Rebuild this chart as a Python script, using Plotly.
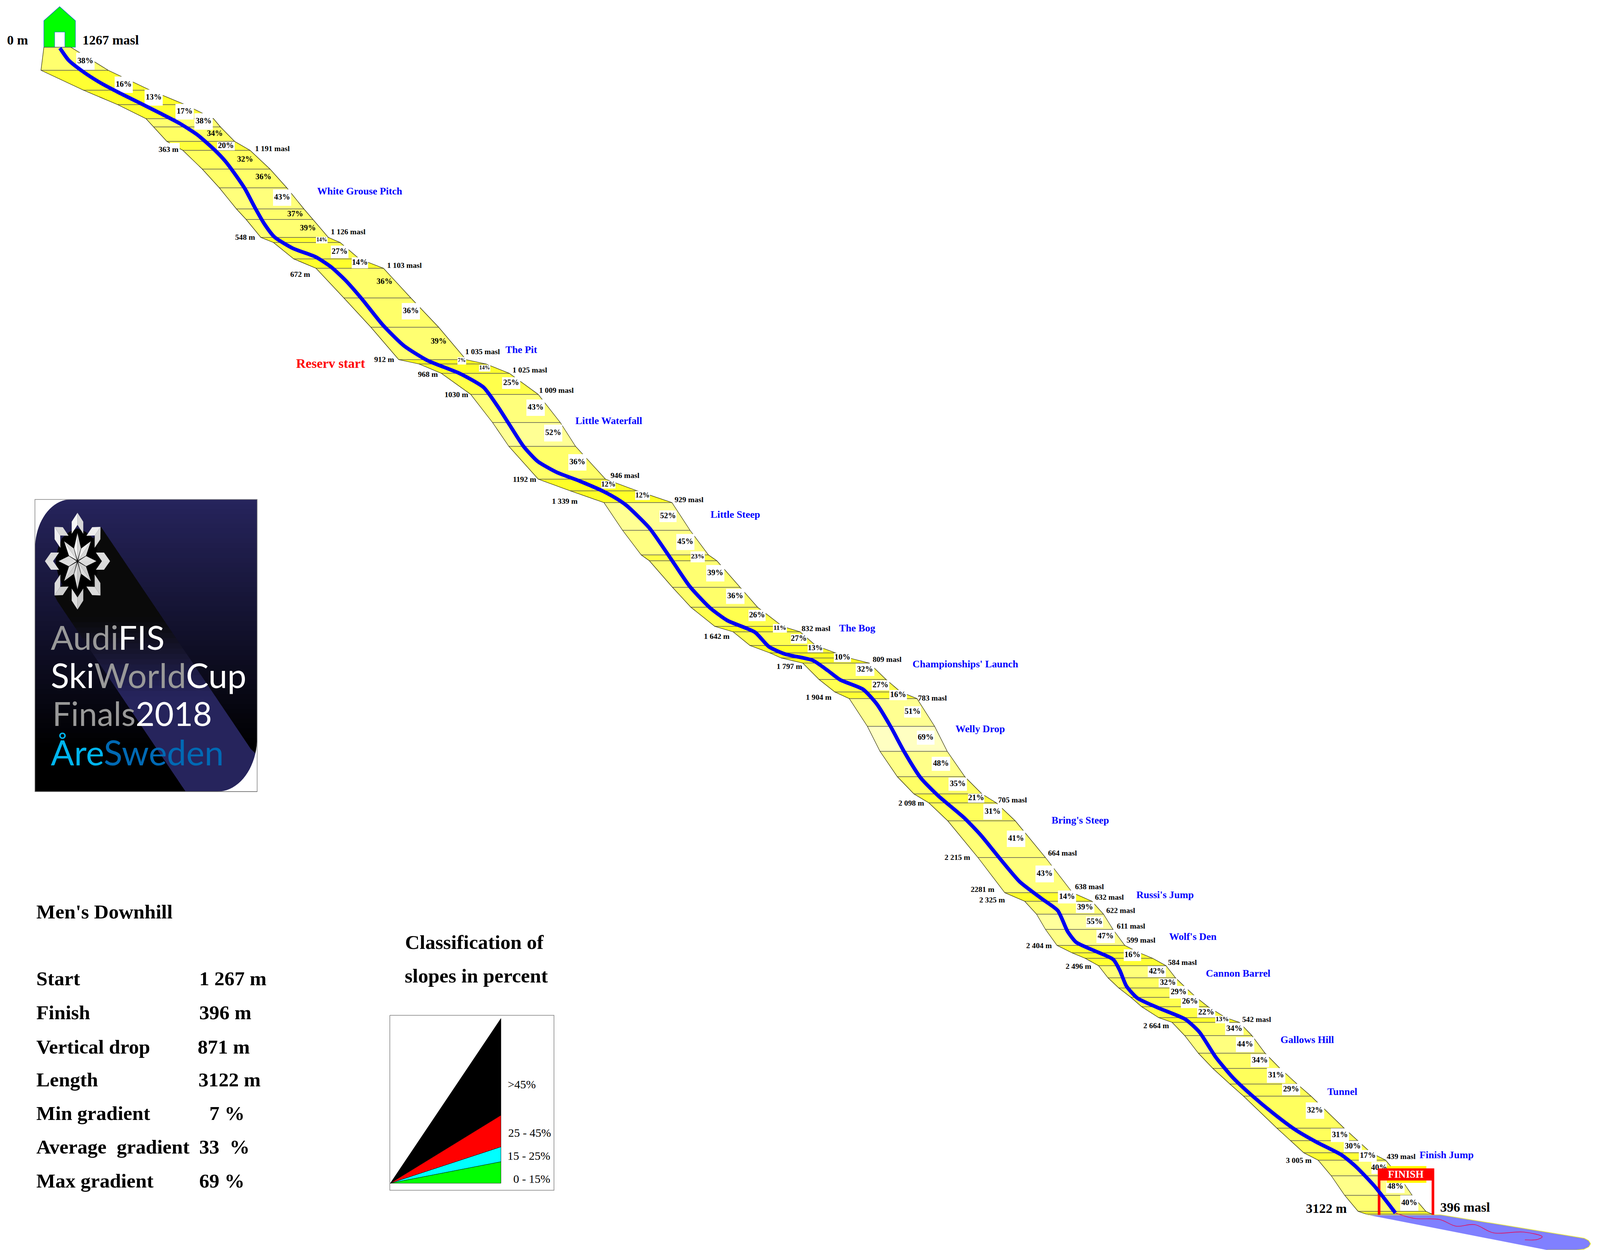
import math
import plotly.graph_objects as go

W, H = 6091, 3201
SERIF = "Liberation Serif"
# the figure fills whatever window it gets; the browser's window is narrower than the
# reference, so text is sized for that narrower mapping of the x axis
F = 0.68

# ---------- course ribbon: the cross lines of the piste
ROW_Y = [121, 180, 231, 268, 304, 325, 362, 385, 433, 481, 535, 562, 608, 621, 663, 687, 763, 838, 921, 932,
         956, 1010, 1082, 1143, 1227, 1257, 1287, 1358, 1421, 1436, 1504, 1555, 1604, 1618, 1653, 1672, 1685,
         1698, 1740, 1772, 1789, 1860, 1924, 1989, 2033, 2056, 2102, 2196, 2286, 2308, 2341, 2380, 2421, 2440,
         2454, 2473, 2504, 2530, 2554, 2578, 2606, 2618, 2652, 2697, 2736, 2776, 2807, 2889, 2921, 2952, 2971,
         3011, 3061, 3102, 3109]
ROW_LEFT = [167, 156, 318, 448, 556, 585, 635, 696, 770, 835, 900, 937, 993, 1041, 1118, 1203, 1309, 1412, 1518,
            1595, 1680, 1792, 1875, 1937, 2049, 2171, 2299, 2370, 2441, 2472, 2560, 2630, 2721, 2791, 2855, 2931,
            2974, 3056, 3118, 3178, 3233, 3302, 3350, 3416, 3479, 3536, 3608, 3723, 3825, 3901, 3946, 3980, 4024,
            4081, 4131, 4182, 4218, 4259, 4305, 4346, 4411, 4462, 4510, 4562, 4617, 4682, 4734, 4861, 4913, 4963,
            5018, 5068, 5119, 5170, 5201]
ROW_RIGHT = [270, 412, 572, 705, 813, 839, 893, 952, 1028, 1092, 1157, 1191, 1250, 1295, 1368, 1460, 1564, 1670,
             1774, 1850, 1939, 2049, 2133, 2191, 2305, 2426, 2558, 2627, 2697, 2729, 2817, 2884, 2979, 3046, 3105,
             3180, 3233, 3309, 3373, 3429, 3491, 3558, 3606, 3673, 3738, 3793, 3865, 3980, 4083, 4157, 4201, 4237,
             4282, 4338, 4388, 4439, 4475, 4515, 4554, 4599, 4666, 4718, 4766, 4816, 4873, 4938, 4991, 5117, 5168,
             5219, 5275, 5325, 5376, 5428, 5452]
BAND_PCT = [38, 16, 13, 17, 38, 34, 20, 32, 36, 43, 37, 39, 14, 27, 14, 36, 36, 39, 7, 14, 25, 43, 52, 36, 12, 12,
            52, 45, 23, 39, 36, 26, 11, 27, 13, 10, 10, 32, 27, 16, 51, 69, 48, 35, 21, 31, 41, 43, 14, 39, 55, 47,
            16, 16, 16, 42, 32, 29, 26, 22, 13, 34, 44, 34, 31, 29, 32, 31, 30, 17, 40, 48, 40, 12]

# ---------- racing line
LINE_X = [228, 261, 313, 377, 452, 539, 610, 684, 753, 817, 858, 900, 933, 970, 1007, 1045, 1115, 1202, 1261, 1314,
          1377, 1457, 1537, 1627, 1752, 1841, 1895, 1939, 1993, 2046, 2118, 2207, 2296, 2350, 2386, 2472, 2553, 2625,
          2702, 2769, 2874, 2927, 2989, 3094, 3151, 3199, 3285, 3338, 3390, 3443, 3505, 3572, 3670, 3733, 3807, 3882,
          3965, 4027, 4064, 4097, 4164, 4238, 4263, 4288, 4330, 4413, 4512, 4566, 4628, 4694, 4762, 4851, 4931, 5010,
          5108, 5161, 5232, 5312]
LINE_Y = [123, 154, 182, 210, 237, 266, 290, 316, 346, 384, 413, 451, 484, 531, 574, 607, 636, 658, 684, 717,
          765, 832, 885, 923, 957, 992, 1041, 1087, 1143, 1181, 1209, 1232, 1258, 1278, 1295, 1352, 1430, 1501,
          1556, 1589, 1619, 1656, 1675, 1691, 1717, 1741, 1765, 1803, 1860, 1926, 1992, 2038, 2094, 2138, 2199, 2258,
          2301, 2332, 2385, 2413, 2434, 2457, 2485, 2525, 2556, 2582, 2610, 2643, 2707, 2760, 2803, 2853, 2893, 2924,
          2958, 2987, 3037, 3106]

# ---------- slope labels: text, x, y, font size, box width, box height (0 = no box)
SLOPE_TEXT = ["38%", "16%", "13%", "17%", "38%", "34%", "20%", "32%", "36%", "43%", "37%", "39%", "14%", "27%", "14%",
              "36%", "36%", "39%", "7%", "14%", "25%", "43%", "52%", "36%", "12%", "12%", "52%", "45%", "23%", "39%",
              "36%", "26%", "11%", "27%", "13%", "10%", "32%", "27%", "16%", "51%", "69%", "48%", "35%", "21%", "31%",
              "41%", "43%", "14%", "39%", "55%", "47%", "16%", "42%", "32%", "29%", "26%", "22%", "13%", "34%", "44%",
              "34%", "31%", "29%", "32%", "31%", "30%", "17%", "40%", "48%", "40%"]
SLOPE_X = [325, 471, 585, 703, 775, 818, 860, 933, 1003, 1074, 1124, 1172, 1225, 1293, 1370, 1464, 1564, 1670, 1758, 1845,
           1946, 2039, 2106, 2198, 2316, 2446, 2543, 2609, 2656, 2723, 2799, 2882, 2969, 3041, 3104, 3207, 3293, 3352,
           3419, 3474, 3524, 3582, 3646, 3716, 3779, 3868, 3977, 4062, 4131, 4167, 4209, 4311, 4404, 4446, 4487, 4530,
           4592, 4653, 4699, 4740, 4796, 4858, 4915, 5006, 5101, 5150, 5207, 5250, 5312, 5365]
SLOPE_Y = [157, 217, 250, 286, 311, 343, 374, 409, 454, 506, 549, 585, 615, 645, 673, 722, 797, 875, 924, 943,
           981, 1044, 1109, 1184, 1241, 1269, 1322, 1388, 1426, 1468, 1527, 1576, 1609, 1636, 1660, 1684, 1715, 1755,
           1780, 1823, 1889, 1956, 2008, 2044, 2079, 2148, 2238, 2297, 2324, 2361, 2398, 2446, 2488, 2517, 2541, 2565,
           2593, 2611, 2635, 2675, 2716, 2754, 2790, 2844, 2907, 2936, 2960, 2991, 3039, 3081]
SLOPE_SIZE = [30, 30, 30, 30, 30, 30, 30, 30, 30, 30, 30, 30, 20, 30, 30,
              30, 30, 30, 20, 20, 30, 30, 30, 30, 27, 27, 30, 30, 25, 30,
              30, 30, 25, 30, 28, 30, 30, 30, 30, 30, 30, 30, 30, 30, 30,
              30, 30, 30, 30, 30, 30, 30, 30, 30, 30, 30, 30, 25, 30, 30,
              30, 30, 30, 30, 30, 30, 30, 30, 30, 30]
BOX_W = [70, 69, 69, 70, 70, 0, 67, 0, 0, 69, 0, 0, 44, 67, 62,
         0, 69, 0, 33, 43, 69, 70, 69, 69, 54, 56, 65, 69, 54, 69,
         70, 65, 53, 62, 59, 65, 71, 67, 67, 64, 67, 70, 70, 62, 71,
         70, 70, 69, 70, 65, 70, 66, 69, 70, 70, 69, 69, 53, 70, 70,
         70, 70, 69, 70, 69, 69, 68, 58, 70, 69]
BOX_H = [44, 42, 41, 40, 42, 0, 22, 0, 0, 42, 0, 0, 17, 32, 28,
         0, 42, 0, 19, 17, 30, 42, 43, 42, 20, 23, 30, 41, 28, 42,
         39, 29, 22, 24, 21, 23, 32, 26, 26, 29, 36, 36, 34, 23, 40,
         42, 43, 33, 28, 28, 34, 30, 28, 23, 32, 33, 25, 19, 31, 38,
         33, 38, 29, 42, 35, 29, 30, 31, 32, 40]

# ---------- other on-chart labels
MASL_TEXT = ["1 191 masl", "1 126 masl", "1 103 masl", "1 035 masl", "1 025 masl", "1 009 masl", "946 masl", "929 masl",
             "832 masl", "809 masl", "783 masl", "705 masl", "664 masl", "638 masl", "632 masl", "622 masl", "611 masl",
             "599 masl", "584 masl", "542 masl", "439 masl",
             "363 m", "548 m", "672 m", "912 m", "968 m", "1030 m", "1192 m", "1 339 m", "1 642 m", "1 797 m", "1 904 m",
             "2 098 m", "2 215 m", "2281 m", "2 325 m", "2 404 m", "2 496 m", "2 664 m", "3 005 m"]
MASL_X = [1037, 1325, 1540, 1837, 2017, 2118, 2379, 2623, 3106, 3377, 3549, 3855, 4045, 4147, 4223, 4267, 4306, 4344, 4502,
          4784, 5334, 641, 933, 1143, 1463, 1629, 1738, 1997, 2151, 2729, 3005, 3117, 3469, 3645, 3741, 3777, 3956, 4106,
          4402, 4945]
MASL_Y = [380, 593, 679, 900, 947, 999, 1217, 1279, 1609, 1688, 1787, 2048, 2184, 2270, 2297, 2331, 2371, 2407, 2464, 2610,
          2961, 382, 607, 702, 920, 958, 1010, 1227, 1283, 1629, 1706, 1785, 2056, 2195, 2277, 2304, 2421, 2474, 2626, 2971]

NAME_TEXT = ["White Grouse Pitch", "The Pit", "Little Waterfall", "Little Steep", "The Bog", "Championships' Launch",
             "Welly Drop", "Bring's Steep", "Russi's Jump", "Wolf's Den", "Cannon Barrel", "Gallows Hill", "Tunnel",
             "Finish Jump"]
NAME_X = [1369, 1985, 2318, 2800, 3264, 3675, 3732, 4112, 4435, 4541, 4713, 4977, 5111, 5508]
NAME_Y = [489, 895, 1077, 1317, 1608, 1700, 1866, 2100, 2291, 2398, 2492, 2662, 2795, 2957]

BIG_TEXT = ["0 m", "1267 masl", "3122 m", "396 masl", "Reserv start"]
BIG_X = [67, 421, 5049, 5578, 1259]
BIG_Y = [102, 102, 3094, 3091, 930]

# ---------- summary text
STAT_NAMES = ["Start", "Finish", "Vertical drop", "Length", "Min gradient", "Average&nbsp; gradient", "Max gradient"]
STAT_VALUES = ["1 267 m", "396 m", "871 m", "3122 m", "7 %", "33&nbsp; %", "69 %"]
STAT_VALUE_X = [756, 756, 750, 753, 794, 756, 755]
STAT_Y = [2505, 2592, 2680, 2764, 2850, 2936, 3023]

# ---------- slope class legend
LEG_LABELS = [">45%", "25 - 45%", "15 - 25%", "0 - 15%"]
LEG_TOP = [2608, 2856, 2937, 2975]
LEG_BOTTOM = [2856, 2937, 2975, 3030]
LEG_COLORS = ["#000000", "#FF0000", "#00FFFF", "#00FF00"]
LEG_X = [1987, 2016, 2013, 2025]
LEG_Y = [2776, 2900, 2959, 3018]

# ---------- finish area
RUNOUT_X = [5206, 5485, 6031, 6048, 6055, 6048, 6030, 6000, 5889]
RUNOUT_Y = [3111, 3111, 3171, 3177, 3185, 3193, 3199, 3201, 3201]
TRAIL_X = [5312, 5383, 5481, 5543, 5614, 5685, 5800, 5871, 5853, 5805]
TRAIL_Y = [3106, 3120, 3123, 3140, 3136, 3157, 3155, 3167, 3174, 3175]


def band_colour(p):
    blue = int(max(34, min(195, 51 + (p - 16) * 2.7)))
    return f"#ffff{blue:02x}"


def poly(xs, ys, fill, line=None, lw=0, mode="lines"):
    return go.Scatter(x=xs, y=ys, mode=mode, fill="toself", fillcolor=fill,
                      line=dict(color=line or fill, width=lw), hoverinfo="skip")


def rect(x0, x1, y0, y1, fill):
    return go.Scatter(x=[x0, x1, x1, x0, x0], y=[y0, y0, y1, y1, y0], mode="none", fill="toself",
                      fillcolor=fill, hoverinfo="skip")


fig = go.Figure()

# run-out
fig.add_trace(poly(RUNOUT_X, RUNOUT_Y, "#8080FF", "#E8E820", 1.5))

# house
fig.add_trace(poly([167, 167, 227, 287, 287, 167], [121, 53, 17, 53, 121, 121], "#00FF00", "#0060C0", 1.2))
fig.add_trace(poly([208, 247, 247, 208, 208], [82, 82, 121, 121, 82], "#FFFFFF", "#0060C0", 1))

# piste bands
for i, p in enumerate(BAND_PCT):
    fig.add_trace(go.Scatter(
        x=[ROW_LEFT[i], ROW_RIGHT[i], ROW_RIGHT[i + 1], ROW_LEFT[i + 1], ROW_LEFT[i]],
        y=[ROW_Y[i], ROW_Y[i], ROW_Y[i + 1], ROW_Y[i + 1], ROW_Y[i]],
        mode="none", fill="toself", fillcolor=band_colour(p), hoverinfo="skip"))

# cross lines and edges
sx, sy = [], []
for yv, l, r in zip(ROW_Y, ROW_LEFT, ROW_RIGHT):
    sx += [l, r, None]
    sy += [yv, yv, None]
fig.add_trace(go.Scatter(x=sx, y=sy, mode="lines", line=dict(color="#555555", width=1.4), hoverinfo="skip"))
fig.add_trace(go.Scatter(x=ROW_LEFT, y=ROW_Y, mode="lines", line=dict(color="#222200", width=1.2), hoverinfo="skip"))
fig.add_trace(go.Scatter(x=ROW_RIGHT, y=ROW_Y, mode="lines", line=dict(color="#222200", width=1.2), hoverinfo="skip"))

# white boxes behind slope labels
bx, by = [], []
for x, y, w, h in zip(SLOPE_X, SLOPE_Y, BOX_W, BOX_H):
    if w:
        bx += [x - w / 2, x + w / 2, x + w / 2, x - w / 2, x - w / 2, None]
        by += [y - h / 2, y - h / 2, y + h / 2, y + h / 2, y - h / 2, None]
bx += [646, 684, 684, 646, 646, None]
by += [366, 366, 384, 384, 366, None]
fig.add_trace(go.Scatter(x=bx, y=by, mode="none", fill="toself", fillcolor="#FFFFFF", hoverinfo="skip"))

# slope percentages
fig.add_trace(go.Scatter(x=SLOPE_X, y=SLOPE_Y, mode="text", text=SLOPE_TEXT, textposition="middle center",
                         textfont=dict(family=SERIF, size=[s * F for s in SLOPE_SIZE], color="#000000", weight="bold"),
                         hoverinfo="skip"))

# yellow patch and finish gate
fig.add_trace(rect(5279, 5430, 2986, 3029, "#FFFF00"))
fig.add_trace(rect(5245, 5460, 2992, 3023, "#FF0000"))
fig.add_trace(rect(5245, 5255, 3023, 3111, "#FF0000"))
fig.add_trace(rect(5450, 5460, 3023, 3111, "#FF0000"))

# racing line and run-out trail
fig.add_trace(go.Scatter(x=LINE_X, y=LINE_Y, mode="lines",
                         line=dict(color="#0000F0", width=9.5, shape="spline", smoothing=0.6), hoverinfo="skip"))
fig.add_trace(go.Scatter(x=TRAIL_X, y=TRAIL_Y, mode="lines",
                         line=dict(color="#E0105A", width=1.6, shape="spline", smoothing=1), hoverinfo="skip"))

# legend wedges
fig.add_trace(poly([1484, 2109, 2109, 1484, 1484], [2600, 2600, 3048, 3048, 2600], "#FFFFFF", "#808080", 1.5))
for top, bot, col in zip(LEG_TOP, LEG_BOTTOM, LEG_COLORS):
    fig.add_trace(poly([1486, 1907, 1907, 1486], [3030, top, bot, 3030], col, "#000000", 0.8))

annotations = []


def label(x, y, text, size, color="#000000", bold=True, anchor="center", family=SERIF):
    annotations.append(dict(x=x, y=y, xref="x", yref="y", text=text, showarrow=False, xanchor=anchor, yanchor="middle",
                            font=dict(family=family, size=size * F, color=color, weight="bold" if bold else "normal")))


for t, x, y in zip(MASL_TEXT, MASL_X, MASL_Y):
    label(x, y, t, 29)
for t, x, y in zip(NAME_TEXT, NAME_X, NAME_Y):
    label(x, y, t, 38, "#0000FF")
for t, x, y in zip(BIG_TEXT, BIG_X, BIG_Y):
    label(x, y, t, 50, "#FF0000" if t == "Reserv start" else "#000000")
label(5352, 3007, "FINISH", 39, "#FFFFFF", bold=True)

label(136, 2334, "Men's Downhill", 76, anchor="left")
for t, y in zip(STAT_NAMES, STAT_Y):
    label(135, y, t, 76, anchor="left")
for t, x, y in zip(STAT_VALUES, STAT_VALUE_X, STAT_Y):
    label(x, y, t, 76, anchor="left")

label(1806, 2412, "Classification of", 76)
label(1814, 2498, "slopes in percent", 76)
for t, x, y in zip(LEG_LABELS, LEG_X, LEG_Y):
    label(x, y, t, 44, bold=False)

# ---------- logo
LOGO_X0, LOGO_X1, LOGO_Y0, LOGO_Y1 = 133, 979, 1279, 2027
shapes = []


def path(points, fill, line="rgba(0,0,0,0)", lw=0):
    d = "M " + " L ".join(f"{a:.1f},{b:.1f}" for a, b in points) + " Z"
    shapes.append(dict(type="path", path=d, xref="x", yref="y", fillcolor=fill, line=dict(color=line, width=lw),
                       layer="below"))


def mix(a, b, t):
    t = max(0, min(1, t))
    return "#%02x%02x%02x" % tuple(int(a[i] + (b[i] - a[i]) * t) for i in range(3))


NAVY, BLACK = (38, 36, 92), (0, 0, 0)
steps = 60
for k in range(steps):
    y0 = LOGO_Y0 + (LOGO_Y1 - LOGO_Y0) * k / steps
    y1 = LOGO_Y0 + (LOGO_Y1 - LOGO_Y0) * (k + 1) / steps + 1
    path([(LOGO_X0, y0), (LOGO_X1, y0), (LOGO_X1, y1), (LOGO_X0, y1)], mix(NAVY, BLACK, (k / steps) / 0.85))


def lx(v):
    return 100 + v / 1.65


def ly(v):
    return 1250 + v / 1.912


# diagonal shadow of the flake, black near it and navy further along
def edge_x(y, p, q):
    return p[0] + (q[0] - p[0]) * (y - p[1]) / (q[1] - p[1])


upper = ((470, 190), (1430, 1300))
lower = ((175, 530), (1000, 1485))
back = ((470, 190), (175, 530))


def left_x(v):
    return edge_x(v, *back) if v < 530 else edge_x(v, *lower)


for k in range(50):
    a = 190 + (1485 - 190) * k / 50
    b = min(1485, 190 + (1485 - 190) * (k + 1) / 50 + 2)
    xa1 = 1450 if a >= 1300 else edge_x(a, *upper)
    xb1 = 1450 if b >= 1300 else edge_x(b, *upper)
    t = (a - 620) / 380
    path([(lx(left_x(a)), ly(a)), (lx(xa1), ly(a)), (lx(xb1), ly(b)), (lx(left_x(b)), ly(b))],
         mix((10, 10, 10), NAVY, t))

# white corners of the rounded square
rx, ry = 136, 128
pts = []
for i in range(21):
    an = math.pi / 2 * i / 20
    pts.append((LOGO_X0 + rx - rx * math.sin(an), LOGO_Y0 + ry - ry * math.cos(an)))
path([(LOGO_X0, LOGO_Y0)] + pts, "#FFFFFF")
rx, ry = 151, 139
pts = []
for i in range(21):
    an = math.pi / 2 * i / 20
    pts.append((LOGO_X1 - rx + rx * math.sin(an), LOGO_Y1 - ry + ry * math.cos(an)))
path([(LOGO_X1, LOGO_Y1)] + pts, "#FFFFFF")
shapes.append(dict(type="rect", x0=LOGO_X0, x1=LOGO_X1, y0=LOGO_Y0, y1=LOGO_Y1, xref="x", yref="y",
                   line=dict(color="#808080", width=1.5), fillcolor="rgba(0,0,0,0)", layer="below"))

# snowflake
FLAKE_CX, FLAKE_CY = 295, 1437


def rot(px, py, deg):
    r = math.radians(deg)
    return (FLAKE_CX + px * math.cos(r) - py * math.sin(r), FLAKE_CY + px * math.sin(r) + py * math.cos(r))


path([rot(*p, 0) for p in [(0, -84), (31, -75), (59, -59), (75, -31), (84, 0), (75, 31), (59, 59), (31, 75),
                           (0, 84), (-31, 75), (-59, 59), (-75, 31), (-84, 0), (-75, -31), (-59, -59), (-31, -75)]],
     "#000000")
for n in range(8):
    a = 45 * n
    shade = 0.5 - 0.5 * math.cos(math.radians(a))
    left = mix((245, 245, 245), (200, 200, 200), shade)
    right = mix((215, 215, 215), (222, 222, 222), shade)
    path([rot(*p, a) for p in [(0, -124), (-22, -101), (-22, -70), (0, -93)]], left)
    path([rot(*p, a) for p in [(0, -124), (22, -101), (22, -70), (0, -93)]], right)
    path([rot(*p, a) for p in [(0, -3), (-13, -33), (0, -72)]], left)
    path([rot(*p, a) for p in [(0, -3), (13, -33), (0, -72)]], right)

GREY, WHITE, SKY, BLUE = "#999999", "#FFFFFF", "#00B5EE", "#0069B4"
LOGO_LINES = [f'<span style="color:{GREY}">Audi</span><span style="color:{WHITE}">FIS</span>',
              f'<span style="color:{WHITE}">Ski</span><span style="color:{GREY}">World</span><span style="color:{WHITE}">Cup</span>',
              f'<span style="color:{GREY}">Finals</span><span style="color:{WHITE}">2018</span>',
              f'<span style="color:{SKY}">Åre</span><span style="color:{BLUE}">Sweden</span>']
LOGO_TEXT_X = [190, 191, 197, 190]
LOGO_TEXT_Y = [1630, 1728, 1826, 1926]
LOGO_TEXT_SIZE = [126, 128, 124, 130]
for t, x, y, s in zip(LOGO_LINES, LOGO_TEXT_X, LOGO_TEXT_Y, LOGO_TEXT_SIZE):
    label(x, y, t, s, bold=False, anchor="left", family="Lato")

fig.update_layout(
    margin=dict(l=0, r=0, t=0, b=0), paper_bgcolor="#FFFFFF", plot_bgcolor="#FFFFFF",
    showlegend=False, hovermode=False, annotations=annotations, shapes=shapes,
    xaxis=dict(range=[0, W], visible=False, fixedrange=True),
    yaxis=dict(range=[H, 0], visible=False, fixedrange=True),
)
fig.write_html("out.html", config=dict(displayModeBar=False),
               post_script="document.body.style.margin='0';"
                           "Plotly.relayout('{plot_id}',{width:window.innerWidth,height:window.innerHeight});")
